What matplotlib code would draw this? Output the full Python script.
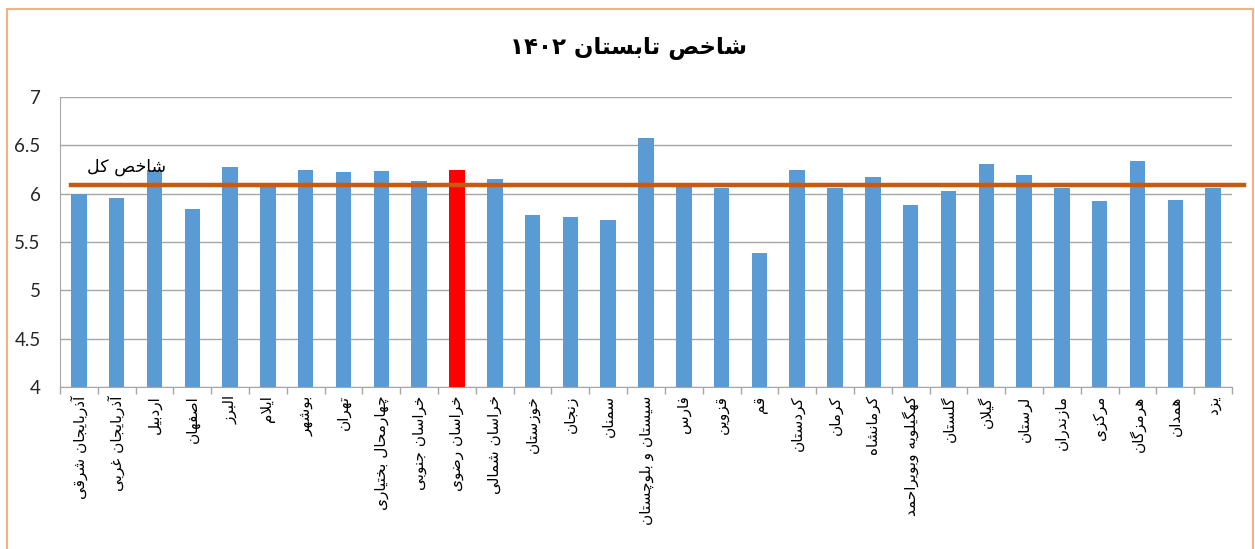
import matplotlib
matplotlib.use("Agg")
import matplotlib.pyplot as plt
import numpy as np
from matplotlib.font_manager import FontProperties, findfont
from matplotlib.ft2font import FT2Font
from matplotlib.patches import Rectangle

# ---------------- data ----------------
title_text = "شاخص تابستان ۱۴۰۲"
line_label = "شاخص کل"
provinces = [
    "آذربایجان شرقی", "آذربایجان غربی", "اردبیل", "اصفهان", "البرز", "ایلام",
    "بوشهر", "تهران", "چهارمحال بختیاری", "خراسان جنوبی", "خراسان رضوی",
    "خراسان شمالی", "خوزستان", "زنجان", "سمنان", "سیستان و بلوچستان", "فارس",
    "قزوین", "قم", "کردستان", "کرمان", "کرمانشاه", "کهگیلویه وبویراحمد",
    "گلستان", "گیلان", "لرستان", "مازندران", "مرکزی", "هرمزگان", "همدان", "یزد",
]
values = [
    6.00, 5.96, 6.25, 5.84, 6.28, 6.08, 6.24, 6.22, 6.23, 6.13, 6.24,
    6.155, 5.78, 5.755, 5.73, 6.58, 6.08, 6.06, 5.39, 6.25, 6.06,
    6.17, 5.88, 6.03, 6.31, 6.19, 6.06, 5.92, 6.34, 5.93, 6.06,
]
highlight = "خراسان رضوی"
overall_index = 6.09
y_ticks = [4, 4.5, 5, 5.5, 6, 6.5, 7]

# ---------------- minimal Persian shaping ----------------
FORMS = {
    "ا": (0xFE8D, 0xFE8E, None, None), "آ": (0xFE81, 0xFE82, None, None),
    "ب": (0xFE8F, 0xFE90, 0xFE91, 0xFE92), "پ": (0xFB56, 0xFB57, 0xFB58, 0xFB59),
    "ت": (0xFE95, 0xFE96, 0xFE97, 0xFE98), "ث": (0xFE99, 0xFE9A, 0xFE9B, 0xFE9C),
    "ج": (0xFE9D, 0xFE9E, 0xFE9F, 0xFEA0), "چ": (0xFB7A, 0xFB7B, 0xFB7C, 0xFB7D),
    "ح": (0xFEA1, 0xFEA2, 0xFEA3, 0xFEA4), "خ": (0xFEA5, 0xFEA6, 0xFEA7, 0xFEA8),
    "د": (0xFEA9, 0xFEAA, None, None), "ذ": (0xFEAB, 0xFEAC, None, None),
    "ر": (0xFEAD, 0xFEAE, None, None), "ز": (0xFEAF, 0xFEB0, None, None),
    "ژ": (0xFB8A, 0xFB8B, None, None),
    "س": (0xFEB1, 0xFEB2, 0xFEB3, 0xFEB4), "ش": (0xFEB5, 0xFEB6, 0xFEB7, 0xFEB8),
    "ص": (0xFEB9, 0xFEBA, 0xFEBB, 0xFEBC), "ض": (0xFEBD, 0xFEBE, 0xFEBF, 0xFEC0),
    "ط": (0xFEC1, 0xFEC2, 0xFEC3, 0xFEC4), "ظ": (0xFEC5, 0xFEC6, 0xFEC7, 0xFEC8),
    "ع": (0xFEC9, 0xFECA, 0xFECB, 0xFECC), "غ": (0xFECD, 0xFECE, 0xFECF, 0xFED0),
    "ف": (0xFED1, 0xFED2, 0xFED3, 0xFED4), "ق": (0xFED5, 0xFED6, 0xFED7, 0xFED8),
    "ک": (0xFB8E, 0xFB8F, 0xFB90, 0xFB91), "گ": (0xFB92, 0xFB93, 0xFB94, 0xFB95),
    "ل": (0xFEDD, 0xFEDE, 0xFEDF, 0xFEE0), "م": (0xFEE1, 0xFEE2, 0xFEE3, 0xFEE4),
    "ن": (0xFEE5, 0xFEE6, 0xFEE7, 0xFEE8), "ه": (0xFEE9, 0xFEEA, 0xFEEB, 0xFEEC),
    "و": (0xFEED, 0xFEEE, None, None), "ی": (0xFBFC, 0xFBFD, 0xFBFE, 0xFBFF),
}
LAM_ALEF = {"ا": (0xFEFB, 0xFEFC), "آ": (0xFEF5, 0xFEF6)}

_font_cache = {}


def has_glyph(cp, weight):
    if weight not in _font_cache:
        path = findfont(FontProperties(family="DejaVu Sans", weight=weight))
        _font_cache[weight] = FT2Font(path)
    return _font_cache[weight].get_char_index(cp) != 0


def shape(text, weight="normal"):
    chars = list(text)
    out = []
    i = 0
    n = len(chars)

    def dual(c):
        return c in FORMS and FORMS[c][2] is not None

    while i < n:
        c = chars[i]
        if c not in FORMS:
            out.append(c)
            i += 1
            continue
        prev_joins = i > 0 and dual(chars[i - 1])
        if c == "ل" and i + 1 < n and chars[i + 1] in LAM_ALEF:
            iso, fin = LAM_ALEF[chars[i + 1]]
            cp = fin if prev_joins else iso
            if has_glyph(cp, weight):
                out.append(chr(cp))
                i += 2
                continue
        next_joins = i + 1 < n and chars[i + 1] in FORMS
        iso, fin, ini, med = FORMS[c]
        if prev_joins and next_joins and med is not None:
            cp = med
        elif prev_joins:
            cp = fin
        elif next_joins and ini is not None:
            cp = ini
        else:
            cp = iso
        out.append(chr(cp) if has_glyph(cp, weight) else c)
        i += 1
    rev = out[::-1]
    res = []
    run = []
    for ch in rev:
        if ch.isdigit():
            run.append(ch)
        else:
            if run:
                res.extend(run[::-1])
                run = []
            res.append(ch)
    if run:
        res.extend(run[::-1])
    return "".join(res)


# ---------------- plot ----------------
plt.rcParams["font.family"] = ["DejaVu Sans"]
W, H = 1255, 549
fig = plt.figure(figsize=(W / 100, H / 100), dpi=100)
ax = fig.add_axes([60 / W, 1 - 387 / H, (1232 - 60) / W, (387 - 97) / H])

x = np.arange(len(provinces))
colors = ["#FF0000" if p == highlight else "#5B9BD5" for p in provinces]
ax.bar(x, [v - y_ticks[0] for v in values], bottom=y_ticks[0], width=0.41,
       color=colors, zorder=3)

ax.set_xlim(-0.5, len(provinces) - 0.5)
ax.set_ylim(y_ticks[0], y_ticks[-1])
ax.set_yticks(y_ticks)
ax.set_yticklabels([f"{t:g}" for t in y_ticks], fontfamily="Lato", fontsize=13.5,
                   color="#262626")
ax.tick_params(axis="y", length=0, pad=14)
ax.yaxis.grid(True, color="#A6A6A6", linewidth=1.0, zorder=0)
ax.set_axisbelow(True)

# category boundary ticks
ax.set_xticks(np.arange(-0.5, len(provinces), 1.0))
ax.set_xticklabels([])
ax.tick_params(axis="x", length=5, color="#A6A6A6", width=1)
ax.set_xticks(x, minor=True)
ax.set_xticklabels([shape(p) for p in provinces], minor=True, rotation=90,
                   fontsize=11, color="black", va="top", ha="center")
ax.tick_params(axis="x", which="minor", length=0, pad=6)

for s in ["top", "right"]:
    ax.spines[s].set_visible(False)
ax.spines["left"].set_color("#A6A6A6")
ax.spines["bottom"].set_color("#A6A6A6")

# overall index line
ax.axhline(overall_index, xmin=(71 - 60) / 1172, xmax=(1244 - 60) / 1172,
           color="#C55A11", linewidth=3.2, zorder=4, clip_on=False)
ax.text((127 - 60) / 1172, overall_index + 0.09, shape(line_label), fontsize=12.5,
        color="black", ha="center", va="bottom", zorder=5,
        transform=ax.get_yaxis_transform())

# title
fig.text(628 / W, 1 - 48 / H, shape(title_text, "bold"), fontsize=16.5,
         fontweight="bold", ha="center", va="center")

# chart border
fig.patches.append(Rectangle((6.5 / W, -0.01), (1253 - 6.5) / W, 1 - 9 / H + 0.01,
                             transform=fig.transFigure, fill=False,
                             edgecolor="#F4B183", linewidth=1.5))

fig.savefig("out.png", dpi=100)
